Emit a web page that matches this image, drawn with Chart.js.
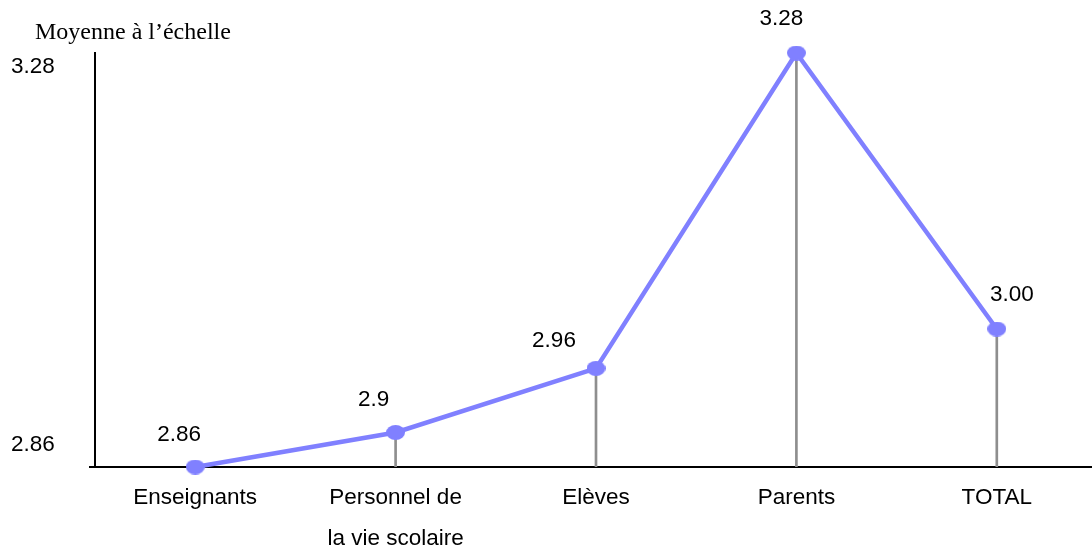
<!DOCTYPE html>
<html>
<head>
<meta charset="utf-8">
<script src="https://cdn.jsdelivr.net/npm/chart.js@4/dist/chart.umd.min.js"></script>
<style>
  html, body { margin: 0; padding: 0; background: #fff; overflow: hidden; }
  canvas { display: block; }
</style>
</head>
<body>
<canvas id="chart" width="1100" height="549"></canvas>
<script>
// data
const categories = ['Enseignants', ['Personnel de', 'la vie scolaire'], 'Elèves', 'Parents', 'TOTAL'];
const means = [2.86, 2.895, 2.96, 3.28, 3.00];
const valueLabels = ['2.86', '2.9', '2.96', '3.28', '3.00'];
const yTicks = [2.86, 3.28];
const yTitle = 'Moyenne à l\u2019échelle';

// label placement relative to each point (px)
const labelShift = [[-16, -32], [-22, -33], [-42, -28], [-15, -34], [15, -34]];
const yLabelShift = { 2.86: -22, 3.28: 14 };

const LINE = '#8080ff';
const DROP = '#8e8e8e';
const SANS = "Arial, 'Liberation Sans', sans-serif";
const FS = 22.5;

// elliptical marker
function ellipseMarker(w, h, color) {
  const c = document.createElement('canvas');
  c.width = w; c.height = h;
  const g = c.getContext('2d');
  g.fillStyle = color;
  g.beginPath();
  g.ellipse(w / 2, h / 2, w / 2, h / 2, 0, 0, Math.PI * 2);
  g.fill();
  return c;
}

const textPlugin = {
  id: 'texts',
  afterDatasetsDraw(chart) {
    const ctx = chart.ctx;
    const y = chart.scales.y;
    ctx.save();
    ctx.fillStyle = '#000';
    ctx.textBaseline = 'middle';

    // title, top left
    ctx.font = "24px 'Liberation Serif', 'Times New Roman', serif";
    ctx.textAlign = 'left';
    ctx.fillText(yTitle, 35, 33);

    // y end labels
    ctx.font = FS + 'px ' + SANS;
    yTicks.forEach(v => {
      ctx.fillText(String(v), 11, y.getPixelForValue(v) + yLabelShift[v]);
    });

    // value labels above points
    ctx.textAlign = 'center';
    const meta = chart.getDatasetMeta(1);
    meta.data.forEach((pt, i) => {
      ctx.fillText(valueLabels[i], pt.x + labelShift[i][0], pt.y + labelShift[i][1]);
    });
    ctx.restore();
  }
};

new Chart(document.getElementById('chart'), {
  data: {
    labels: categories,
    datasets: [
      {
        type: 'bar',
        data: means,
        backgroundColor: DROP,
        barThickness: 2,
        order: 2
      },
      {
        type: 'line',
        data: means,
        borderColor: LINE,
        borderWidth: 4.5,
        pointStyle: ellipseMarker(19, 15, LINE),
        pointRadius: 8,
        tension: 0,
        clip: false,
        order: 1
      }
    ]
  },
  options: {
    responsive: false,
    animation: false,
    layout: { autoPadding: false, padding: { top: 53, right: 3, left: 0, bottom: 0 } },
    plugins: { legend: { display: false }, tooltip: { enabled: false } },
    scales: {
      x: {
        offset: true,
        grid: { display: false, drawTicks: false },
        border: { display: true, color: '#000', width: 2 },
        ticks: {
          color: '#000',
          padding: 10,
          maxRotation: 0,
          autoSkip: false,
          font: { family: SANS, size: FS, lineHeight: 1.82 }
        },
        afterFit(s) { s.height = 82; }
      },
      y: {
        min: 2.86,
        max: 3.28,
        afterBuildTicks(s) { s.ticks = [{ value: 2.86 }]; },
        grid: { display: true, drawOnChartArea: false, drawTicks: true, tickLength: 6, color: '#000', lineWidth: 2 },
        border: { display: true, color: '#000', width: 2 },
        ticks: { display: false },
        afterFit(s) { s.width = 95; }
      }
    }
  },
  plugins: [textPlugin]
});
</script>
</body>
</html>
